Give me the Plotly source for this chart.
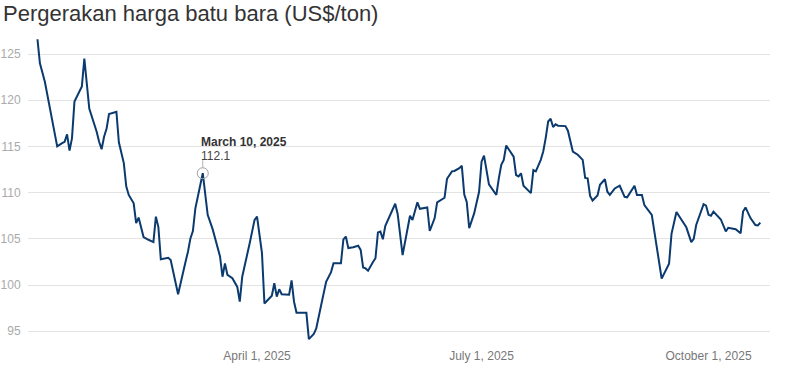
import plotly.graph_objects as go

title_text = "Pergerakan harga batu bara (US$/ton)"

dates = [
    "2025-01-02", "2025-01-03", "2025-01-05", "2025-01-07", "2025-01-08", "2025-01-10",
    "2025-01-12", "2025-01-13", "2025-01-14", "2025-01-15", "2025-01-16", "2025-01-17",
    "2025-01-20", "2025-01-21", "2025-01-23", "2025-01-26", "2025-01-27", "2025-01-28",
    "2025-01-29", "2025-01-30", "2025-01-31", "2025-02-02", "2025-02-03", "2025-02-04",
    "2025-02-05", "2025-02-06", "2025-02-07", "2025-02-08", "2025-02-10", "2025-02-11",
    "2025-02-12", "2025-02-13", "2025-02-14", "2025-02-16", "2025-02-18", "2025-02-19",
    "2025-02-20", "2025-02-21", "2025-02-24", "2025-02-25", "2025-02-26", "2025-02-28",
    "2025-03-03", "2025-03-04", "2025-03-05", "2025-03-06", "2025-03-07", "2025-03-10",
    "2025-03-12", "2025-03-14", "2025-03-17", "2025-03-18", "2025-03-19", "2025-03-20",
    "2025-03-22", "2025-03-24", "2025-03-25", "2025-03-26", "2025-03-29", "2025-03-31",
    "2025-04-01", "2025-04-03", "2025-04-04", "2025-04-07", "2025-04-08", "2025-04-09",
    "2025-04-10", "2025-04-11", "2025-04-14", "2025-04-15", "2025-04-16", "2025-04-17",
    "2025-04-21", "2025-04-22", "2025-04-24", "2025-04-25", "2025-04-27", "2025-04-29",
    "2025-05-01", "2025-05-02", "2025-05-05", "2025-05-06", "2025-05-07", "2025-05-08",
    "2025-05-10", "2025-05-12", "2025-05-13", "2025-05-14", "2025-05-15", "2025-05-16",
    "2025-05-18", "2025-05-19", "2025-05-20", "2025-05-21", "2025-05-22", "2025-05-23",
    "2025-05-27", "2025-05-28", "2025-05-30", "2025-06-02", "2025-06-03", "2025-06-05",
    "2025-06-06", "2025-06-09", "2025-06-10", "2025-06-12", "2025-06-13", "2025-06-15",
    "2025-06-16", "2025-06-17", "2025-06-19", "2025-06-20", "2025-06-22", "2025-06-23",
    "2025-06-24", "2025-06-25", "2025-06-26", "2025-06-28", "2025-06-30", "2025-07-01",
    "2025-07-02", "2025-07-04", "2025-07-07", "2025-07-08", "2025-07-09", "2025-07-10",
    "2025-07-11", "2025-07-14", "2025-07-15", "2025-07-16", "2025-07-17", "2025-07-18",
    "2025-07-21", "2025-07-22", "2025-07-23", "2025-07-25", "2025-07-26", "2025-07-27",
    "2025-07-28", "2025-07-29", "2025-07-30", "2025-07-31", "2025-08-01", "2025-08-04",
    "2025-08-05", "2025-08-07", "2025-08-09", "2025-08-11", "2025-08-12", "2025-08-13",
    "2025-08-14", "2025-08-15", "2025-08-17", "2025-08-18", "2025-08-20", "2025-08-21",
    "2025-08-22", "2025-08-24", "2025-08-26", "2025-08-28", "2025-08-29", "2025-09-01",
    "2025-09-02", "2025-09-04", "2025-09-05", "2025-09-08", "2025-09-12", "2025-09-15",
    "2025-09-16", "2025-09-18", "2025-09-22", "2025-09-24", "2025-09-25", "2025-09-26",
    "2025-09-29", "2025-09-30", "2025-10-01", "2025-10-02", "2025-10-03", "2025-10-06",
    "2025-10-08", "2025-10-09", "2025-10-12", "2025-10-14", "2025-10-15", "2025-10-16",
    "2025-10-18", "2025-10-20", "2025-10-21", "2025-10-22",
]

prices = [
    126.6, 124.0, 122.0, 119.3, 118.05, 115.0,
    115.35, 115.5, 116.3, 114.55, 115.9, 119.85,
    121.5, 124.5, 119.1, 116.6, 115.5, 114.7,
    116.05, 116.9, 118.5, 118.65, 118.75, 115.45,
    114.4, 113.2, 110.65, 109.75, 108.85, 106.7,
    107.3, 106.3, 105.2, 104.9, 104.65, 107.4,
    106.3, 102.8, 102.95, 102.7, 101.5, 99.0,
    102.5, 103.6, 105.05, 105.85, 108.3, 112.1,
    107.6, 106.05, 103.1, 100.9, 102.35, 101.1,
    100.75, 99.8, 98.2, 100.9, 104.5, 107.05,
    107.4, 103.45, 98.0, 98.85, 100.2, 98.75,
    99.55, 99.0, 98.95, 100.5, 98.2, 97.0,
    97.0, 94.15, 94.7, 95.3, 97.85, 100.35,
    101.4, 102.35, 102.35, 104.95, 105.25, 104.0,
    104.1, 104.25, 103.8, 101.9, 101.8, 101.55,
    102.5, 102.9, 105.7, 105.8, 104.95, 106.4,
    108.8, 107.7, 103.25, 107.5, 107.05, 108.95,
    108.25, 108.4, 105.85, 107.25, 108.95, 109.3,
    109.45, 111.5, 112.3, 112.35, 112.65, 112.9,
    109.8, 109.0, 106.15, 107.75, 110.1, 113.35,
    114.0, 110.9, 109.75, 111.55, 113.0, 113.55,
    115.1, 113.9, 111.9, 111.75, 112.1, 110.75,
    109.95, 112.45, 112.3, 113.55, 114.45, 115.9,
    117.7, 118.0, 117.1, 117.4, 117.25, 117.2,
    116.7, 114.45, 114.1, 113.55, 111.6, 111.55,
    109.65, 109.15, 109.7, 110.85, 111.45, 110.1,
    109.75, 110.45, 110.75, 109.55, 109.5, 110.75,
    109.75, 109.75, 108.65, 107.6, 100.7, 102.3,
    105.55, 107.9, 106.25, 104.65, 105.0, 106.5,
    108.75, 108.6, 107.6, 107.5, 107.95, 107.1,
    105.8, 106.2, 106.05, 105.6, 107.95, 108.4,
    107.25, 106.5, 106.45, 106.75,
]

highlight_date = "2025-03-10"
highlight_label = "March 10, 2025"
highlight_value = 112.1

x_tick_vals = ["2025-04-01", "2025-07-01", "2025-10-01"]
x_tick_text = ["April 1, 2025", "July 1, 2025", "October 1, 2025"]
y_tick_vals = [95, 100, 105, 110, 115, 120, 125]

FONT = "Arial, 'Liberation Sans', sans-serif"

W, H = 803, 376
ML, MR, MT, MB = 28, 33, 36, 34
PH = H - MT - MB

fig = go.Figure()
fig.add_trace(go.Scatter(
    x=dates, y=prices, mode="lines",
    line=dict(color="#0b3a6e", width=2),
    hoverinfo="skip", showlegend=False,
))
fig.add_trace(go.Scatter(
    x=[highlight_date], y=[highlight_value], mode="markers",
    marker=dict(symbol="circle-open", size=11, color="#a0a0a0", line=dict(width=1)),
    hoverinfo="skip", showlegend=False,
))

fig.add_shape(
    type="line", xref="x", yref="y", xsizemode="pixel", ysizemode="pixel",
    xanchor=highlight_date, yanchor=highlight_value,
    x0=0, x1=0, y0=5.5, y1=13,
    line=dict(color="#b0b0b0", width=1),
)
fig.add_annotation(
    x=highlight_date, y=highlight_value, text="<b>" + highlight_label + "</b>",
    showarrow=False, xanchor="left", yanchor="middle", xshift=-4, yshift=31,
    font=dict(family=FONT, size=12, color="#333333"),
)
fig.add_annotation(
    x=highlight_date, y=highlight_value, text=str(highlight_value),
    showarrow=False, xanchor="left", yanchor="middle", xshift=-4, yshift=17,
    font=dict(family=FONT, size=12, color="#444444"),
)
# chart title
fig.add_annotation(
    xref="paper", yref="paper",
    x=(1 - ML) / (W - ML - MR), y=1 + (MT + 1) / PH,
    xanchor="left", yanchor="top", showarrow=False,
    text=title_text,
    font=dict(family=FONT, size=22, color="#333333"),
)

fig.update_layout(
    width=W, height=H,
    margin=dict(l=ML, r=MR, t=MT, b=MB, autoexpand=False),
    paper_bgcolor="white", plot_bgcolor="white",
    xaxis=dict(
        type="date", automargin=False,
        range=["2024-12-29 04:00", "2025-10-25 22:00"],
        tickvals=x_tick_vals, ticktext=x_tick_text,
        showgrid=False, zeroline=False, showline=False,
        ticks="outside", ticklen=3, tickcolor="rgba(0,0,0,0)",
        tickfont=dict(family=FONT, size=12, color="#777777"),
    ),
    yaxis=dict(
        automargin=False,
        range=[93.84, 126.95],
        tickvals=y_tick_vals,
        showgrid=True, gridcolor="#e3e3e3", gridwidth=1,
        zeroline=False, showline=False,
        ticks="outside", ticklen=4, tickcolor="rgba(0,0,0,0)",
        tickfont=dict(family=FONT, size=12, color="#aaaaaa"),
    ),
)

fig.write_html(
    "out.html",
    config={"displayModeBar": False, "staticPlot": True},
    post_script="document.body.style.margin='0';document.body.style.padding='0';",
)
